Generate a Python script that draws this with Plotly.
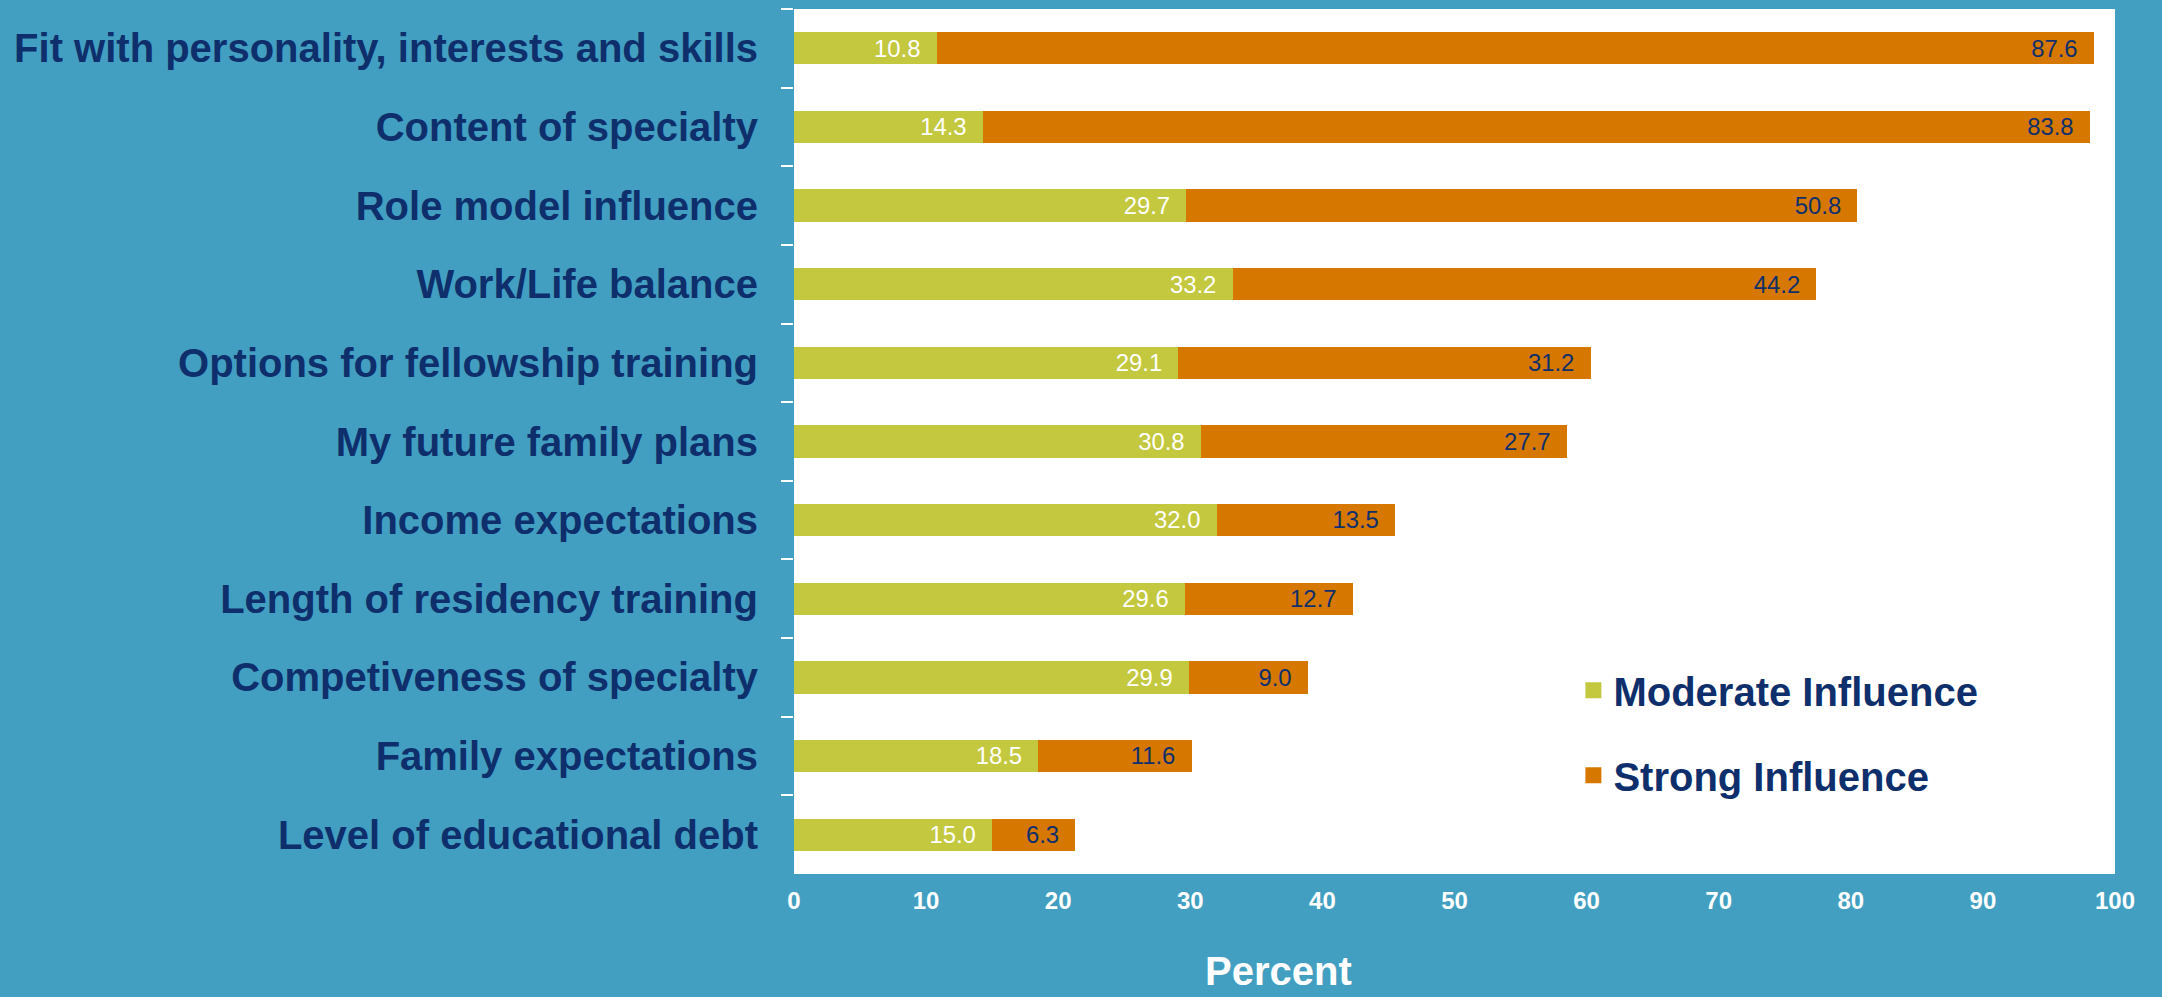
import plotly.graph_objects as go

categories = [
    "Fit with personality, interests and skills",
    "Content of specialty",
    "Role model influence",
    "Work/Life balance",
    "Options for fellowship training",
    "My future family plans",
    "Income expectations",
    "Length of residency training",
    "Competiveness of specialty",
    "Family expectations",
    "Level of educational debt",
]
moderate = [10.8, 14.3, 29.7, 33.2, 29.1, 30.8, 32.0, 29.6, 29.9, 18.5, 15.0]
strong = [87.6, 83.8, 50.8, 44.2, 31.2, 27.7, 13.5, 12.7, 9.0, 11.6, 6.3]
x_ticks = [0, 10, 20, 30, 40, 50, 60, 70, 80, 90, 100]
series_names = ["Moderate Influence", "Strong Influence"]

BG = "#429FC1"
NAVY = "#0E2F6C"
GREEN = "#C3C83F"
ORANGE = "#D67800"
FONT = "Liberation Sans, Arial, sans-serif"

fig = go.Figure()
fig.add_trace(go.Bar(
    y=categories, x=moderate, orientation="h", name=series_names[0],
    marker=dict(color=GREEN, line=dict(width=0)),
    text=moderate, texttemplate="%{x:.1f}\u00a0\u00a0", textposition="inside",
    insidetextanchor="end", textangle=0,
    textfont=dict(family=FONT, size=30, color="white"),
    showlegend=False,
))
fig.add_trace(go.Bar(
    y=categories, x=strong, orientation="h", name=series_names[1],
    marker=dict(color=ORANGE, line=dict(width=0)),
    text=strong, texttemplate="%{x:.1f}\u00a0\u00a0", textposition="inside",
    insidetextanchor="end", textangle=0,
    textfont=dict(family=FONT, size=30, color=NAVY),
    showlegend=False,
))
# legend entries with larger square swatches
for nm, col, grp in [(series_names[0], GREEN, "a"), (series_names[1], ORANGE, "b")]:
    fig.add_trace(go.Scatter(
        x=[None], y=[None], mode="markers", name=nm,
        marker=dict(symbol="square", size=21, color=col),
        legendgroup=grp, showlegend=True, hoverinfo="skip",
    ))

fig.update_layout(
    width=2162, height=997,
    barmode="stack", bargap=0.59,
    paper_bgcolor=BG, plot_bgcolor="white",
    margin=dict(l=794, r=47, t=9, b=123),
    font=dict(family=FONT),
    legend=dict(
        x=0.59, y=0.25, xanchor="left", yanchor="top",
        bgcolor="rgba(0,0,0,0)", tracegroupgap=30, itemsizing="trace",
        font=dict(family=FONT, size=40, color=NAVY, weight="bold"),
    ),
    xaxis=dict(
        range=[0, 100], tickvals=x_ticks, showgrid=False, zeroline=False,
        showline=False, ticks="", ticklabelstandoff=10,
        tickfont=dict(family=FONT, size=24, color="white", weight="bold"),
    ),
    yaxis=dict(
        categoryorder="array", categoryarray=categories, autorange="reversed",
        showgrid=False, zeroline=False, showline=False,
        ticks="outside", tickson="boundaries", ticklen=12, tickcolor="white", tickwidth=2,
        ticklabelstandoff=35,
        tickfont=dict(family=FONT, size=40, color=NAVY, weight="bold"),
    ),
    annotations=[dict(
        text="<b>Percent</b>", xref="paper", yref="paper", x=0.367, y=-0.140,
        xanchor="center", yanchor="bottom", showarrow=False,
        font=dict(family=FONT, size=40, color="white"),
    )],
)

fig.write_html(
    "out.html",
    config={"displayModeBar": False},
    post_script="document.body.style.margin='0';document.body.style.background='%s';" % BG,
)
